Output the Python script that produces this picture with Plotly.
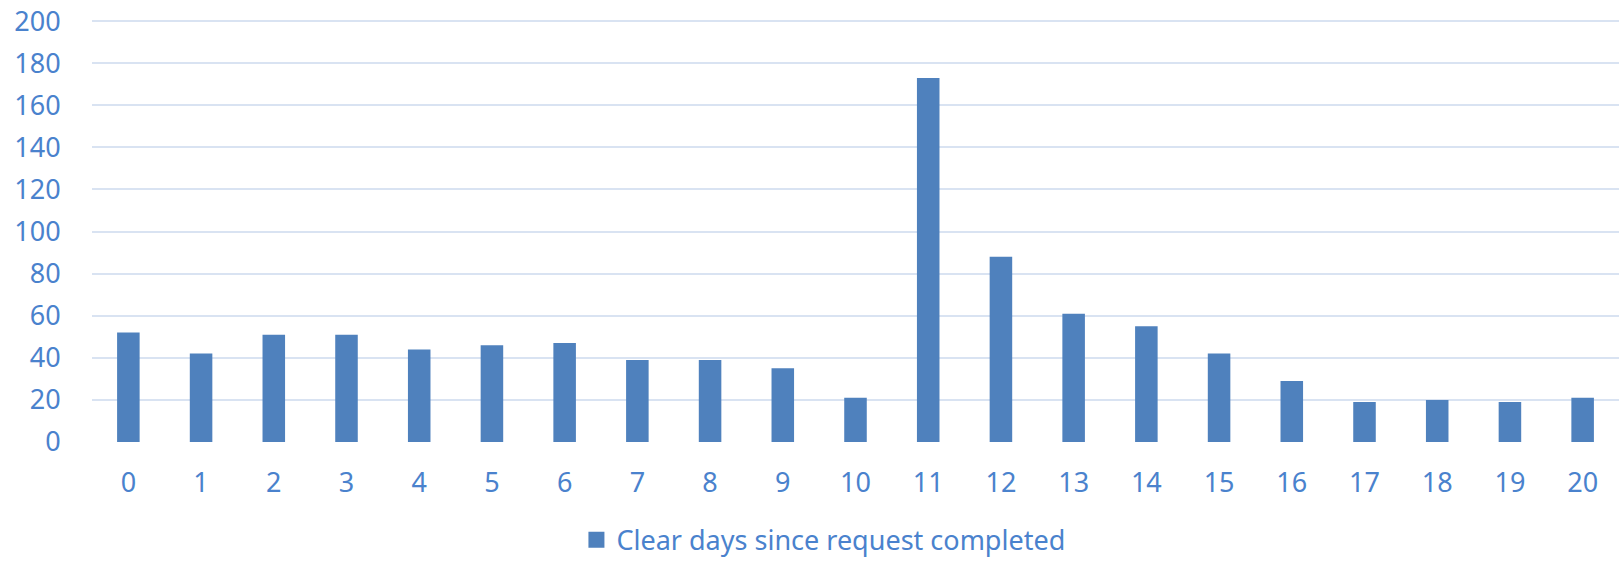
import plotly.graph_objects as go

categories = [str(i) for i in range(21)]
values = [52, 42, 51, 51, 44, 46, 47, 39, 39, 35, 21, 173, 88, 61, 55, 42, 29, 19, 20, 19, 21]
series_name = "Clear days since request completed"
y_ticks = [0, 20, 40, 60, 80, 100, 120, 140, 160, 180, 200]

bar_color = "#4F81BD"
text_color = "#4A82CD"
grid_color = "#D9E3F2"
font_family = "Noto Sans"

fig = go.Figure()
fig.add_trace(go.Bar(
    x=categories, y=values, name=series_name,
    marker=dict(color=bar_color, line=dict(width=0)),
    showlegend=False,
))
# legend entry with a square swatch like the reference
fig.add_trace(go.Scatter(
    x=[None], y=[None], mode="markers", name=series_name,
    marker=dict(symbol="square", size=17, color=bar_color),
    showlegend=True,
))

fig.update_layout(
    width=1623, height=561,
    margin=dict(l=92, r=4, t=18.6, b=119.3, autoexpand=False),
    paper_bgcolor="white", plot_bgcolor="white",
    bargap=0.69,
    font=dict(family=font_family, size=27, color=text_color),
    showlegend=True,
    legend=dict(orientation="h", x=0.479, xanchor="center", y=-0.232, yanchor="middle",
                font=dict(size=27, color=text_color), itemwidth=30),
)
fig.update_xaxes(
    type="category", showgrid=False, zeroline=False, showline=False, automargin=False,
    ticks="outside", ticklen=17, tickcolor="rgba(0,0,0,0)",
    tickfont=dict(size=27, color=text_color),
)
fig.update_yaxes(
    range=[0, 201], tickvals=y_ticks, showgrid=True, gridcolor=grid_color, gridwidth=2,
    zeroline=False, showline=False, automargin=False,
    ticks="outside", ticklen=25, tickcolor="rgba(0,0,0,0)",
    tickfont=dict(size=27, color=text_color),
)

fig.write_html(
    "out.html",
    config={"displayModeBar": False},
    post_script="document.body.style.margin='0px';document.body.style.overflow='hidden';",
)
